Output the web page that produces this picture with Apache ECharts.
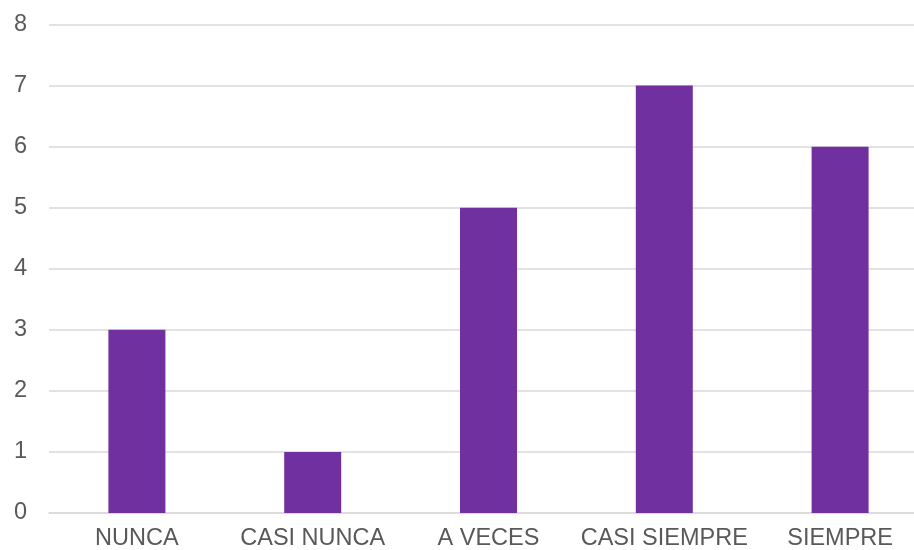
<!DOCTYPE html>
<html>
<head>
<meta charset="utf-8">
<script src="https://cdn.jsdelivr.net/npm/echarts@6/dist/echarts.min.js"></script>
<style>html,body{margin:0;padding:0;background:#fff}#c{width:914px;height:550px}</style>
</head>
<body>
<div id="c"></div>
<script>
const categories = ["NUNCA", "CASI NUNCA", "A VECES", "CASI SIEMPRE", "SIEMPRE"];
const values = [3, 1, 5, 7, 6];
const yTicks = [0, 1, 2, 3, 4, 5, 6, 7, 8];

const chart = echarts.init(document.getElementById('c'), null, {renderer: 'canvas'});
chart.setOption({
  animation: false,
  backgroundColor: '#ffffff',
  grid: {left: 49, top: 24.5, right: -14, bottom: 37, containLabel: false, outerBoundsMode: 'none'},
  xAxis: {
    type: 'category',
    data: categories,
    axisTick: {show: false},
    axisLine: {show: true, lineStyle: {color: '#d9d9d9', width: 1.5}},
    axisLabel: {interval: 0, color: '#595959', fontSize: 23.5, fontFamily: 'Liberation Sans, Arial, sans-serif', margin: 14}
  },
  yAxis: {
    type: 'value',
    min: yTicks[0],
    max: yTicks[yTicks.length - 1],
    interval: 1,
    axisLine: {show: false},
    axisTick: {show: false},
    splitLine: {lineStyle: {color: '#d9d9d9', width: 1.5}},
    axisLabel: {color: '#595959', fontSize: 23.5, fontFamily: 'Liberation Sans, Arial, sans-serif', margin: 22}
  },
  series: [{
    type: 'bar',
    data: values,
    barWidth: 57,
    itemStyle: {color: '#7030a0'}
  }]
});
</script>
</body>
</html>
